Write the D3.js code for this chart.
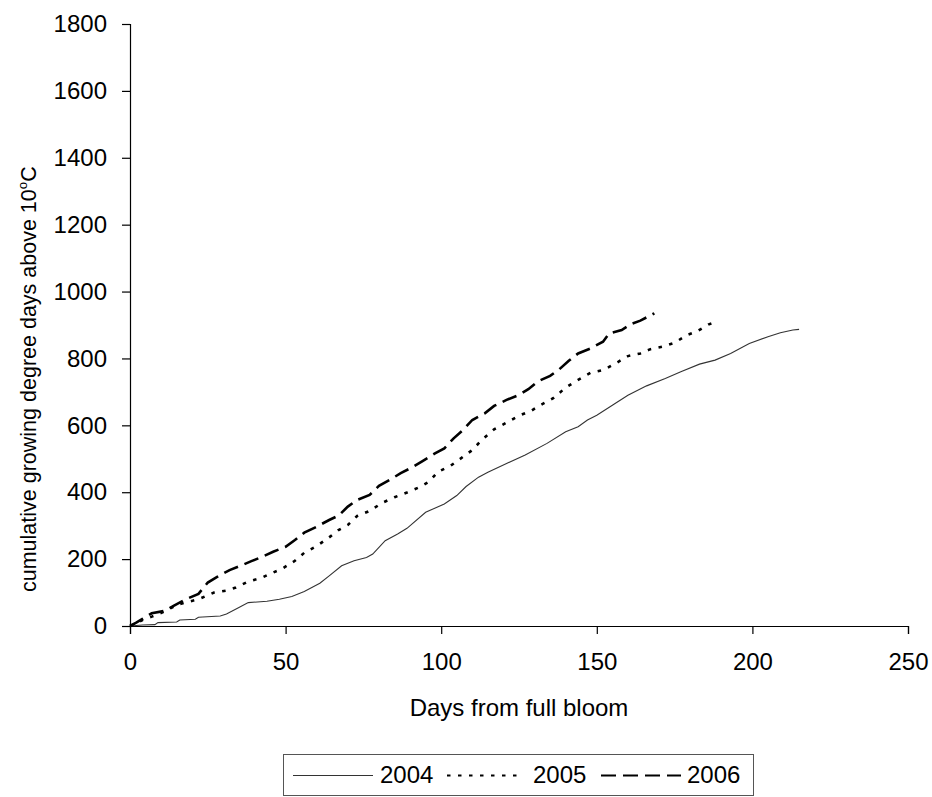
<!DOCTYPE html>
<html>
<head>
<meta charset="utf-8">
<script src="https://cdn.jsdelivr.net/npm/d3@7"></script>
<style>
  body { margin: 0; background: #fff; }
  svg { display: block; font-family: Arial, "Liberation Sans", sans-serif; }
</style>
</head>
<body>
<svg id="chart" width="932" height="797"></svg>
<script>
// ---- Data ----
const days2004 = [0,4,8,9,15,16,21,22,29,31,35,38,44,48,52,56,61,64,68,72,76,78,82,86,89,95,101,105,108,112,115,121,127,134,140,144,147,150,155,160,166,172,177,183,188,193,199,205,209,213,215];
const gdd2004  = [0,3,4,10,12,18,20,26,30,36,55,70,74,80,88,103,128,150,180,195,205,215,255,275,292,340,365,390,417,445,460,486,511,546,581,596,616,630,660,690,718,740,760,783,795,815,845,865,877,885,887];

const days2005 = [0,2,4,7,11,15,19,22,27,31,34,38,42,46,49,53,56,60,64,67,70,73,77,81,85,89,93,96,99,103,106,110,113,117,121,125,129,132,136,140,144,148,152,156,160,164,167,171,175,179,182,186,187];
const gdd2005  = [0,8,18,28,43,63,73,80,100,106,115,133,143,160,172,195,219,239,265,287,302,329,344,368,385,399,415,431,461,479,499,526,556,588,608,629,644,661,681,713,736,757,765,785,807,815,827,835,847,870,880,902,905];

const days2006 = [0,2,4,7,11,14,18,22,25,28,32,36,39,42,46,50,53,56,60,64,67,70,73,77,80,84,87,91,94,98,101,104,107,110,114,117,121,125,128,131,135,138,141,144,148,152,154,158,161,164,168.5];
const gdd2006  = [0,10,21,38,45,60,80,96,130,147,167,182,194,205,222,237,257,279,297,317,330,357,377,392,419,440,457,476,493,516,531,561,586,616,636,658,676,691,708,731,748,768,793,815,830,850,875,885,903,913,935];

const seriesNames = ["2004", "2005", "2006"];
const xTicks = [0, 50, 100, 150, 200, 250];
const yTicks = [0, 200, 400, 600, 800, 1000, 1200, 1400, 1600, 1800];
const xTitle = "Days from full bloom";

// ---- Layout ----
const svg = d3.select("#chart");
const plot = { left: 130, right: 908, top: 24, bottom: 626 };
const FS = 24;
const FSY = 21.5;

const x = d3.scaleLinear().domain([0, 250]).range([plot.left, plot.right]);
const y = d3.scaleLinear().domain([0, 1800]).range([plot.bottom, plot.top]);

const styles = [
  { stroke: "#333", width: 1.1, dash: null },
  { stroke: "#000", width: 2.6, dash: "3.5,7.5" },
  { stroke: "#000", width: 2.6, dash: "15,7" }
];

const series = [
  { name: seriesNames[0], pts: days2004.map((d, i) => [d, gdd2004[i]]) },
  { name: seriesNames[1], pts: days2005.map((d, i) => [d, gdd2005[i]]) },
  { name: seriesNames[2], pts: days2006.map((d, i) => [d, gdd2006[i]]) }
];

// Axes
const yAxis = d3.axisLeft(y).tickValues(yTicks).tickSize(8).tickPadding(15).tickFormat(d3.format("d"));
const xAxis = d3.axisBottom(x).tickValues(xTicks).tickSize(8).tickPadding(19).tickFormat(d3.format("d"));

const gy = svg.append("g").attr("transform", `translate(${plot.left},0)`).call(yAxis);
const gx = svg.append("g").attr("transform", `translate(0,${plot.bottom})`).call(xAxis);
[gx, gy].forEach(g => {
  g.select(".domain").attr("stroke", "#000").attr("stroke-width", 1.2);
  g.selectAll(".tick line").attr("stroke", "#000").attr("stroke-width", 1.2);
  g.selectAll(".tick text").attr("fill", "#000").style("font-size", FS + "px").style("font-family", "Arial, 'Liberation Sans', sans-serif");
});

// Lines
const line = d3.line().x(d => x(d[0])).y(d => y(d[1]));
series.forEach((s, i) => {
  svg.append("path")
    .datum(s.pts)
    .attr("fill", "none")
    .attr("stroke", styles[i].stroke)
    .attr("stroke-width", styles[i].width)
    .attr("stroke-dasharray", styles[i].dash)
    .attr("d", line);
});

// Axis titles
svg.append("text")
  .attr("x", (plot.left + plot.right) / 2)
  .attr("y", 716)
  .attr("text-anchor", "middle")
  .style("font-size", FS + "px")
  .text(xTitle);

const yl = svg.append("text")
  .attr("transform", "translate(36,592) rotate(-90)")
  .attr("text-anchor", "start")
  .style("font-size", FSY + "px");
yl.append("tspan").text("cumulative growing degree days above 10");
yl.append("tspan").attr("dy", -9).style("font-size", (FSY * 0.62) + "px").text("o");
yl.append("tspan").attr("dy", 9).text("C");

// Legend
const lg = svg.append("g");
lg.append("rect").attr("x", 283.5).attr("y", 754.5).attr("width", 470).attr("height", 41)
  .attr("fill", "#fff").attr("stroke", "#555").attr("stroke-width", 1);
const legItems = [
  { x1: 293, x2: 373, tx: 380 },
  { x1: 447, x2: 523, tx: 533 },
  { x1: 601, x2: 681, tx: 687 }
];
legItems.forEach((it, i) => {
  lg.append("line").attr("x1", it.x1).attr("x2", it.x2).attr("y1", 775.5).attr("y2", 775.5)
    .attr("stroke", styles[i].stroke).attr("stroke-width", i === 0 ? 1.2 : 2.2)
    .attr("stroke-dasharray", styles[i].dash);
  lg.append("text").attr("x", it.tx).attr("y", 783).style("font-size", FS + "px").text(seriesNames[i]);
});
</script>
</body>
</html>
